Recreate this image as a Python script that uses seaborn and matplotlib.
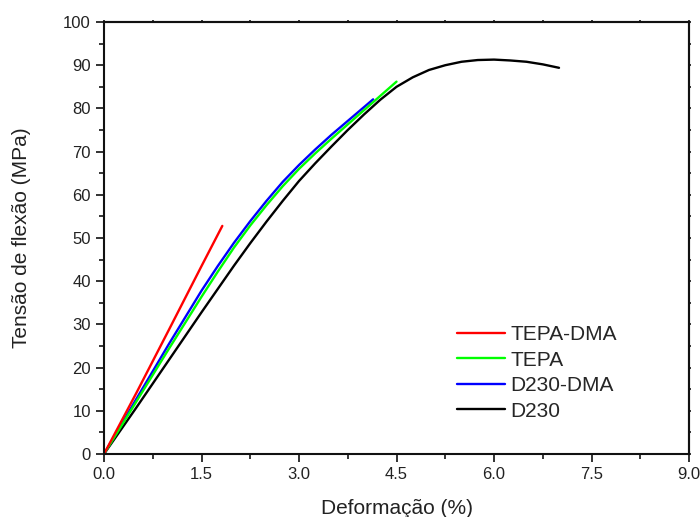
import numpy as np
import pandas as pd
import seaborn as sns
import matplotlib
matplotlib.use("Agg")
import matplotlib.pyplot as plt
from matplotlib.ticker import MultipleLocator, FormatStrFormatter

# curves (strain %, stress MPa)
tepa_dma_x = [0, 0.5, 1.0, 1.5, 1.82]
tepa_dma_y = [0, 14.2, 28.8, 43.5, 52.8]

tepa_x = [0, 0.5, 1.0, 1.5, 1.75, 2.0, 2.25, 2.5, 2.75, 3.0, 3.25, 3.5, 4.0, 4.5]
tepa_y = [0, 12.2, 24.4, 36.4, 42.2, 47.8, 52.9, 57.6, 62.0, 66.0, 69.6, 73.0, 79.6, 86.2]

d230_dma_x = [0, 0.5, 1.0, 1.5, 1.75, 2.0, 2.25, 2.5, 2.75, 3.0, 3.25, 3.5, 4.0, 4.14]
d230_dma_y = [0, 12.8, 25.5, 37.8, 43.5, 48.9, 53.9, 58.6, 63.0, 66.9, 70.5, 73.9, 80.3, 82.1]

d230_x = [0, 0.5, 1.0, 1.5, 2.0, 2.25, 2.5, 2.75, 3.0, 3.25, 3.5, 3.75, 4.0,
          4.25, 4.5, 4.75, 5.0, 5.25, 5.5, 5.75, 6.0, 6.25, 6.5, 6.75, 7.0]
d230_y = [0, 10.8, 21.8, 32.8, 43.6, 48.8, 53.8, 58.6, 63.2, 67.3, 71.2, 75.0, 78.6,
          82.0, 85.0, 87.2, 88.9, 90.0, 90.8, 91.2, 91.3, 91.1, 90.8, 90.2, 89.4]

labels = ["TEPA-DMA", "TEPA", "D230-DMA", "D230"]
colors = ["#ff0000", "#00ff00", "#0000ff", "#000000"]


def build_frame():
    parts = []
    for name, xs, ys in [("TEPA-DMA", tepa_dma_x, tepa_dma_y),
                         ("TEPA", tepa_x, tepa_y),
                         ("D230-DMA", d230_dma_x, d230_dma_y),
                         ("D230", d230_x, d230_y)]:
        parts.append(pd.DataFrame({"x": xs, "y": ys, "amostra": name}))
    return pd.concat(parts, ignore_index=True)


def main():
    sns.set_style("ticks")
    plt.rcParams["font.family"] = ["Liberation Sans", "DejaVu Sans"]

    df = build_frame()
    fig = plt.figure(figsize=(7, 5.17), dpi=100)
    ax = fig.add_axes([0.1486, 0.1219, 0.8357, 0.8355])

    # draw black first so the coloured curves sit on top
    order = labels[::-1]
    sns.lineplot(data=df, x="x", y="y", hue="amostra", hue_order=order,
                 palette=dict(zip(labels, colors)), sort=False, estimator=None,
                 linewidth=1.7, ax=ax)

    ax.set_xlim(0, 9)
    ax.set_ylim(0, 100)
    ax.xaxis.set_major_locator(MultipleLocator(1.5))
    ax.xaxis.set_minor_locator(MultipleLocator(0.75))
    ax.xaxis.set_major_formatter(FormatStrFormatter("%.1f"))
    ax.yaxis.set_major_locator(MultipleLocator(10))
    ax.yaxis.set_minor_locator(MultipleLocator(5))
    ax.tick_params(which="major", direction="out", length=6, width=1.3,
                   labelsize=12, colors="#222222", top=False, right=False)
    ax.tick_params(which="minor", direction="out", length=3.5, width=1.3,
                   top=False, right=False)

    for s in ax.spines.values():
        s.set_linewidth(1.5)
        s.set_color("#111111")

    # tiny ticks on the top and right frame
    top = ax.secondary_xaxis("top")
    top.xaxis.set_major_locator(MultipleLocator(1.5))
    top.xaxis.set_minor_locator(MultipleLocator(0.75))
    top.tick_params(which="both", direction="out", length=1.5, width=1.3,
                    labeltop=False)
    right = ax.secondary_yaxis("right")
    right.yaxis.set_major_locator(MultipleLocator(10))
    right.yaxis.set_minor_locator(MultipleLocator(5))
    right.tick_params(which="both", direction="out", length=1.5, width=1.3,
                      labelright=False)
    for sec in (top, right):
        for s in sec.spines.values():
            s.set_linewidth(1.5)

    ax.set_xlabel("Deformação (%)", fontsize=15, labelpad=12, color="#222222")
    ax.set_ylabel("Tensão de flexão (MPa)", fontsize=15, labelpad=23,
                  color="#222222")

    handles, labs = ax.get_legend_handles_labels()
    lookup = dict(zip(labs, handles))
    ax.legend([lookup[l] for l in labels], labels, frameon=False, fontsize=15,
              loc="center left", bbox_to_anchor=(0.604, 0.1875),
              borderpad=0, borderaxespad=0, handlelength=2.3,
              handletextpad=0.25, labelspacing=0.31)

    fig.savefig("out.png", dpi=100)


if __name__ == "__main__":
    main()
